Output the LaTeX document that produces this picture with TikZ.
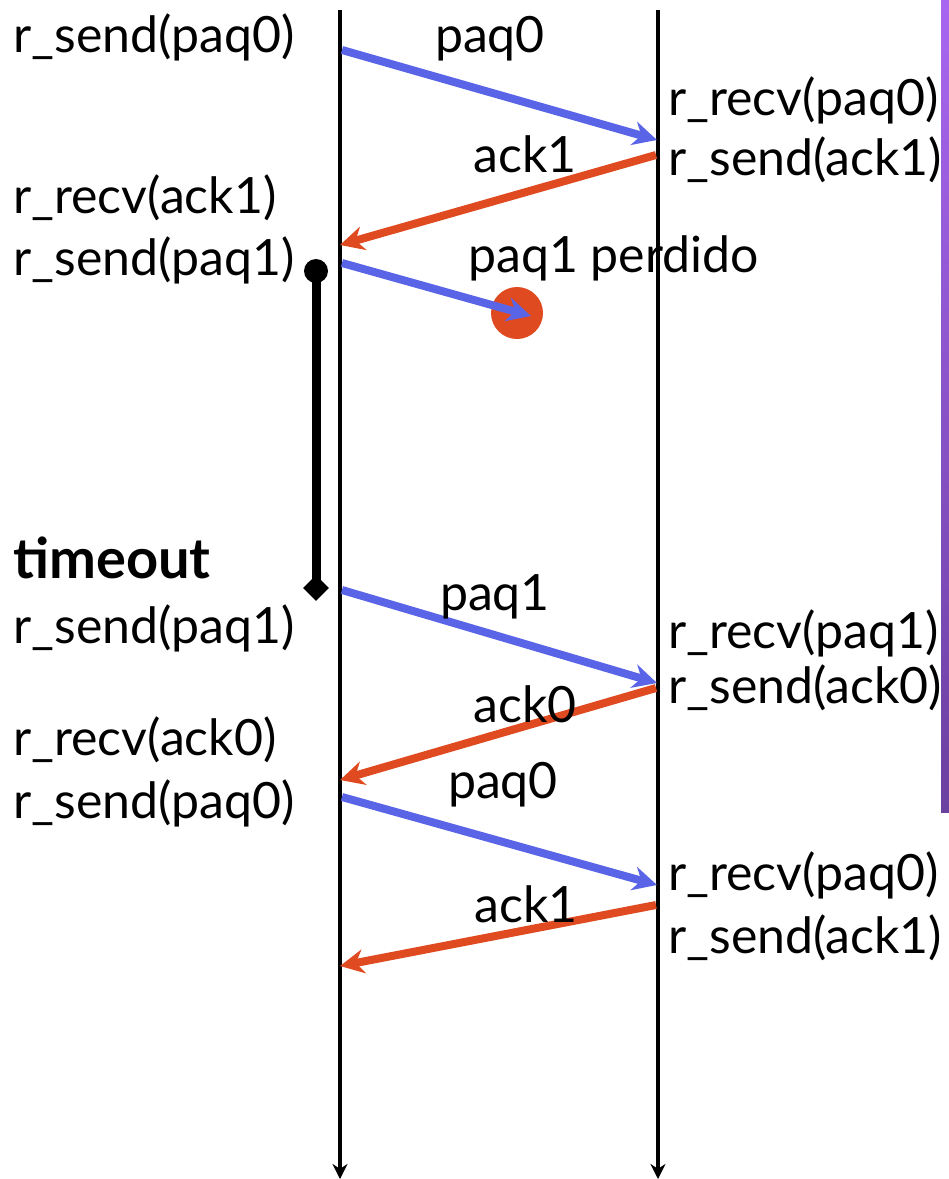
\documentclass[tikz,border=0pt]{standalone}
\usepackage{fontspec}
\setmainfont{Lato}
\usetikzlibrary{arrows.meta,shapes.geometric}
\definecolor{paqblue}{RGB}{90,100,230}
\definecolor{ackred}{RGB}{224,74,32}
\definecolor{bartop}{RGB}{168,102,240}
\definecolor{barbot}{RGB}{106,64,160}

\begin{document}
\begin{tikzpicture}[x=1pt,y=-1pt,
	txt/.style={anchor=base west,inner sep=0pt,font=\fontsize{50}{50}\selectfont},
	msg/.style={anchor=base,inner sep=0pt,font=\fontsize{50}{50}\selectfont},
	paq/.style={paqblue,line width=8pt,-{Stealth[length=24pt,width=24pt]}},
	ack/.style={ackred,line width=8pt,-{Stealth[length=24pt,width=24pt]}},
	life/.style={line width=4.5pt,-{Stealth[length=15pt,width=15pt]}}]
	\useasboundingbox (0,0) rectangle (949,1179);
	% purple bar on the right
	\shade[top color=bartop,bottom color=barbot] (941,0) rectangle (949,812);
	% lifelines
	\coordinate (atop) at (340,10);
	\coordinate (abot) at (340,1179);
	\coordinate (btop) at (658,10);
	\coordinate (bbot) at (658,1179);
	\draw[life] (atop)--(abot);
	\draw[life] (btop)--(bbot);
	% points on the lifelines
	\coordinate (a1) at (342,50);   \coordinate (b1) at (657,140);
	\coordinate (b2) at (656,155);  \coordinate (a2) at (340,245);
	\coordinate (a3) at (342,263);
	\coordinate (a4) at (342,590);  \coordinate (b4) at (657,683);
	\coordinate (b5) at (656,688);  \coordinate (a5) at (340,780);
	\coordinate (a6) at (342,797);  \coordinate (b6) at (657,885);
	\coordinate (b7) at (656,905);  \coordinate (a7) at (340,966);
	% lost packet
	\node[circle,fill=ackred,minimum size=52pt,inner sep=0pt] (lost) at (517,313) {};
	\coordinate (lost tip) at (531,316);
	% timeout
	\node[circle,fill=black,minimum size=24pt,inner sep=0pt] (tstart) at (316,271) {};
	\node[diamond,fill=black,minimum size=26pt,inner sep=0pt] (tend) at (316,588) {};
	\draw[line width=9pt] (tstart.center)--(tend.center);
	% messages
	\draw[paq] (a1)--(b1);
	\draw[ack] (b2)--(a2);
	\draw[paq] (a3)--(lost tip);
	\draw[paq] (a4)--(b4);
	\draw[ack] (b5)--(a5);
	\draw[paq] (a6)--(b6);
	\draw[ack] (b7)--(a7);
	% message labels
	\node[msg] (m1) at (490,52) {paq0};
	\node[msg] (m2) at (525,172) {ack1};
	\node[txt] (m3) at (468,272) {paq1 perdido};
	\node[msg] (m4) at (495,610) {paq1};
	\node[msg] (m5) at (525,722) {ack0};
	\node[msg] (m6) at (503,798) {paq0};
	\node[msg] (m7) at (526,922) {ack1};
	% sender side
	\node[txt] (s1) at (13,52) {r\_send(paq0)};
	\node[txt] (s2) at (13,213) {r\_recv(ack1)};
	\node[txt] (s3) at (13,275) {r\_send(paq1)};
	\node[txt,font=\fontsize{56}{56}\selectfont\bfseries] (s4) at (13,578) {timeout};
	\node[txt] (s5) at (13,643) {r\_send(paq1)};
	\node[txt] (s6) at (13,755) {r\_recv(ack0)};
	\node[txt] (s7) at (13,818) {r\_send(paq0)};
	% receiver side
	\node[txt] (r1) at (668,115) {r\_recv(paq0)};
	\node[txt] (r2) at (668,175) {r\_send(ack1)};
	\node[txt] (r3) at (668,648) {r\_recv(paq1)};
	\node[txt] (r4) at (668,703) {r\_send(ack0)};
	\node[txt] (r5) at (668,890) {r\_recv(paq0)};
	\node[txt] (r6) at (668,953) {r\_send(ack1)};
\end{tikzpicture}
\end{document}
